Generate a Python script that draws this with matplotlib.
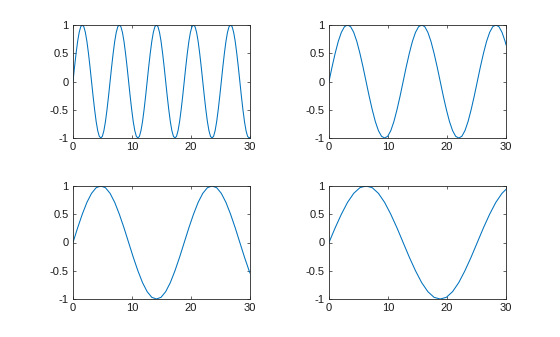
import numpy as np
import matplotlib
matplotlib.use("Agg")
import matplotlib.pyplot as plt

plt.rcParams['font.family'] = ['Liberation Sans', 'DejaVu Sans']
plt.rcParams['axes.unicode_minus'] = False

# Values (samples every quarter-turn/6 of each wave)
y_top_left = [
    0, 0.26, 0.5, 0.71, 0.87, 0.97, 1, 0.97, 0.87, 0.71, 0.5, 0.26, 0, -0.26, -0.5, -0.71, -0.87, -0.97, -1, -0.97, -0.87, -0.71, -0.5, -0.26,
    0, 0.26, 0.5, 0.71, 0.87, 0.97, 1, 0.97, 0.87, 0.71, 0.5, 0.26, 0, -0.26, -0.5, -0.71, -0.87, -0.97, -1, -0.97, -0.87, -0.71, -0.5, -0.26,
    0, 0.26, 0.5, 0.71, 0.87, 0.97, 1, 0.97, 0.87, 0.71, 0.5, 0.26, 0, -0.26, -0.5, -0.71, -0.87, -0.97, -1, -0.97, -0.87, -0.71, -0.5, -0.26,
    0, 0.26, 0.5, 0.71, 0.87, 0.97, 1, 0.97, 0.87, 0.71, 0.5, 0.26, 0, -0.26, -0.5, -0.71, -0.87, -0.97, -1, -0.97, -0.87, -0.71, -0.5, -0.26,
    0, 0.26, 0.5, 0.71, 0.87, 0.97, 1, 0.97, 0.87, 0.71, 0.5, 0.26, 0, -0.26, -0.5, -0.71, -0.87, -0.97, -1,
    -0.99]
y_top_right = [
    0, 0.26, 0.5, 0.71, 0.87, 0.97, 1, 0.97, 0.87, 0.71, 0.5, 0.26, 0, -0.26, -0.5, -0.71, -0.87, -0.97, -1, -0.97, -0.87, -0.71, -0.5, -0.26,
    0, 0.26, 0.5, 0.71, 0.87, 0.97, 1, 0.97, 0.87, 0.71, 0.5, 0.26, 0, -0.26, -0.5, -0.71, -0.87, -0.97, -1, -0.97, -0.87, -0.71, -0.5, -0.26,
    0, 0.26, 0.5, 0.71, 0.87, 0.97, 1, 0.97, 0.87, 0.71,
    0.65]
y_bottom_left = [
    0, 0.26, 0.5, 0.71, 0.87, 0.97, 1, 0.97, 0.87, 0.71, 0.5, 0.26, 0, -0.26, -0.5, -0.71, -0.87, -0.97, -1, -0.97, -0.87, -0.71, -0.5, -0.26,
    0, 0.26, 0.5, 0.71, 0.87, 0.97, 1, 0.97, 0.87, 0.71, 0.5, 0.26, 0, -0.26, -0.5,
    -0.54]
y_bottom_right = [
    0, 0.26, 0.5, 0.71, 0.87, 0.97, 1, 0.97, 0.87, 0.71, 0.5, 0.26, 0, -0.26, -0.5, -0.71, -0.87, -0.97, -1, -0.97, -0.87, -0.71, -0.5, -0.26,
    0, 0.26, 0.5, 0.71, 0.87,
    0.94]

# last regular sample position of each series before the end point x = 30
last_grid = [29.85, 29.85, 29.85, 29.32]
x_end = 30

x_ticks = [0, 10, 20, 30]
y_ticks = [-1, -0.5, 0, 0.5, 1]
y_tick_labels = ['-1', '-0.5', '0', '0.5', '1']

series = [y_top_left, y_top_right, y_bottom_left, y_bottom_right]

fig = plt.figure(figsize=(5.6, 3.37), dpi=100)
W, H = 560, 337
boxes = [(73, 25), (329, 25), (73, 186), (329, 186)]
aw, ah = 177, 113

line_color = '#0072BD'
axis_color = '#262626'

for (l, t), ys, lg in zip(boxes, series, last_grid):
    ax = fig.add_axes([l / W, 1 - (t + ah) / H, aw / W, ah / H])
    y = np.array(ys)
    x = np.append(np.linspace(0, lg, len(y) - 1), x_end)
    ax.plot(x, y, color=line_color, lw=0.75)
    ax.set_xlim(0, 30)
    ax.set_ylim(-1, 1)
    ax.set_xticks(x_ticks)
    ax.set_yticks(y_ticks)
    ax.set_yticklabels(y_tick_labels)
    ax.tick_params(direction='in', length=2.5, width=0.5, top=True, right=True,
                   labelsize=8, colors=axis_color, pad=3, labelcolor='#1a1a1a')
    for s in ax.spines.values():
        s.set_linewidth(0.6)
        s.set_color(axis_color)

fig.savefig('out.png', dpi=100)
